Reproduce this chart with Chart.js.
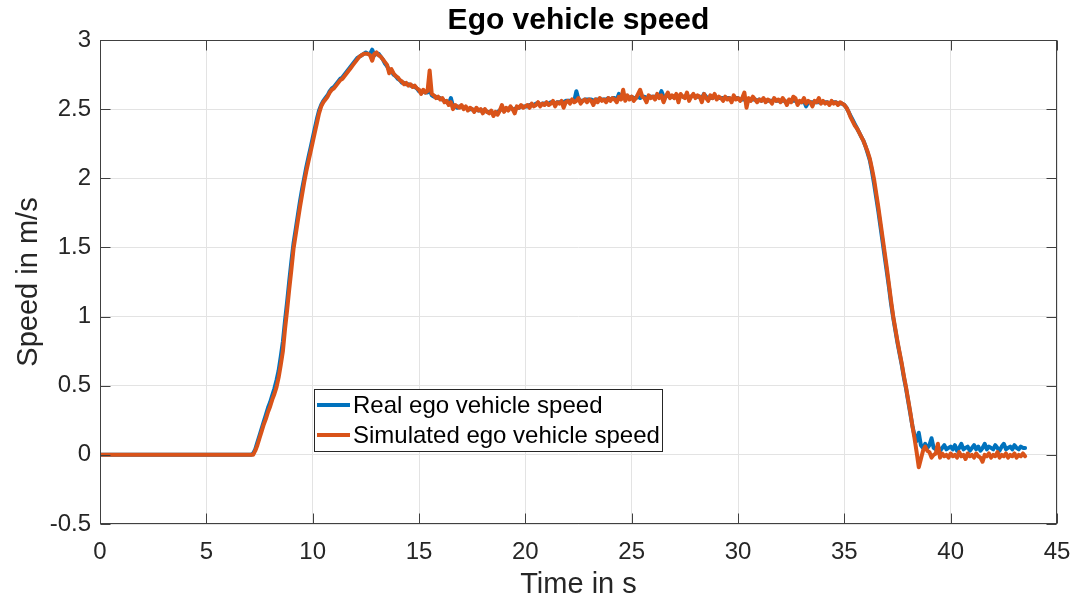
<!DOCTYPE html>
<html>
<head>
<meta charset="utf-8">
<script src="https://cdn.jsdelivr.net/npm/chart.js@4.4.1/dist/chart.umd.min.js"></script>
<style>
  html, body { margin: 0; padding: 0; background: #fff; }
  #wrap { width: 1074px; height: 602px; }
</style>
</head>
<body>
<div id="wrap"><canvas id="speedChart" width="1074" height="602"></canvas></div>
<script>
// both speeds sit at 0 m/s from t = 0 until the logged samples start
let flatStart = 0;
// logged samples, every 0.1 s from 7.0 s to 43.5 s
let sampleStart = 7.0;
let sampleStep = 0.1;

let realSpeed = [
  0.00, 0.00, 0.01, 0.04, 0.09, 0.14, 0.19, 0.24, 0.29, 0.34,
  0.38, 0.43, 0.48, 0.54, 0.61, 0.71, 0.82, 0.97, 1.11, 1.26,
  1.40, 1.53, 1.63, 1.73, 1.83, 1.92, 2.00, 2.08, 2.15, 2.22,
  2.29, 2.36, 2.43, 2.49, 2.53, 2.56, 2.58, 2.60, 2.63, 2.65,
  2.66, 2.68, 2.70, 2.72, 2.73, 2.75, 2.77, 2.79, 2.81, 2.83,
  2.85, 2.87, 2.88, 2.89, 2.90, 2.91, 2.90, 2.90, 2.93, 2.89,
  2.90, 2.90, 2.88, 2.86, 2.83, 2.81, 2.78, 2.78, 2.75, 2.74,
  2.72, 2.71, 2.69, 2.69, 2.68, 2.68, 2.67, 2.67, 2.66, 2.65,
  2.63, 2.62, 2.63, 2.62, 2.62, 2.64, 2.60, 2.59, 2.59, 2.58,
  2.58, 2.57, 2.56, 2.55, 2.54, 2.58, 2.52, 2.52, 2.51, 2.52,
  2.52, 2.51, 2.51, 2.50, 2.50, 2.50, 2.49, 2.50, 2.49, 2.49,
  2.49, 2.49, 2.48, 2.48, 2.48, 2.47, 2.47, 2.48, 2.49, 2.51,
  2.49, 2.50, 2.50, 2.51, 2.50, 2.50, 2.51, 2.51, 2.52, 2.52,
  2.52, 2.52, 2.53, 2.53, 2.53, 2.54, 2.54, 2.53, 2.54, 2.54,
  2.54, 2.54, 2.55, 2.55, 2.54, 2.55, 2.55, 2.55, 2.55, 2.56,
  2.56, 2.56, 2.56, 2.56, 2.63, 2.57, 2.56, 2.56, 2.57, 2.57,
  2.57, 2.57, 2.56, 2.57, 2.57, 2.57, 2.57, 2.57, 2.57, 2.58,
  2.57, 2.58, 2.58, 2.57, 2.61, 2.58, 2.58, 2.58, 2.59, 2.58,
  2.59, 2.58, 2.58, 2.59, 2.58, 2.59, 2.59, 2.58, 2.59, 2.59,
  2.59, 2.59, 2.60, 2.59, 2.63, 2.59, 2.59, 2.60, 2.59, 2.59,
  2.59, 2.59, 2.59, 2.60, 2.59, 2.59, 2.59, 2.59, 2.59, 2.60,
  2.59, 2.59, 2.59, 2.58, 2.61, 2.59, 2.58, 2.58, 2.58, 2.59,
  2.58, 2.58, 2.58, 2.58, 2.58, 2.58, 2.58, 2.57, 2.58, 2.58,
  2.58, 2.57, 2.57, 2.57, 2.57, 2.57, 2.57, 2.57, 2.57, 2.56,
  2.57, 2.56, 2.57, 2.56, 2.56, 2.56, 2.56, 2.57, 2.56, 2.56,
  2.56, 2.56, 2.56, 2.55, 2.56, 2.56, 2.56, 2.56, 2.55, 2.55,
  2.55, 2.56, 2.52, 2.55, 2.55, 2.55, 2.55, 2.55, 2.55, 2.55,
  2.55, 2.55, 2.55, 2.54, 2.55, 2.55, 2.55, 2.54, 2.54, 2.54,
  2.53, 2.51, 2.48, 2.45, 2.42, 2.39, 2.36, 2.33, 2.30, 2.27,
  2.23, 2.18, 2.13, 2.05, 1.96, 1.86, 1.76, 1.65, 1.54, 1.43,
  1.32, 1.21, 1.09, 0.99, 0.90, 0.81, 0.73, 0.65, 0.56, 0.48,
  0.39, 0.30, 0.21, 0.14, 0.10, 0.16, 0.07, 0.05, 0.08, 0.05,
  0.07, 0.12, 0.05, 0.04, 0.06, 0.03, 0.05, 0.07, 0.04, 0.05,
  0.06, 0.04, 0.07, 0.03, 0.05, 0.08, 0.04, 0.05, 0.06, 0.03,
  0.05, 0.07, 0.04, 0.06, 0.03, 0.05, 0.08, 0.04, 0.06, 0.05,
  0.04, 0.07, 0.05, 0.03, 0.06, 0.08, 0.04, 0.05, 0.06, 0.04,
  0.07, 0.05, 0.04, 0.06, 0.05, 0.05
];

let simSpeed = [
  0.00, 0.00, 0.00, 0.03, 0.07, 0.12, 0.17, 0.22, 0.26, 0.31,
  0.35, 0.40, 0.44, 0.49, 0.56, 0.65, 0.75, 0.91, 1.05, 1.20,
  1.34, 1.49, 1.59, 1.69, 1.79, 1.88, 1.97, 2.05, 2.12, 2.19,
  2.26, 2.33, 2.40, 2.47, 2.52, 2.55, 2.57, 2.59, 2.62, 2.64,
  2.65, 2.67, 2.69, 2.71, 2.72, 2.74, 2.76, 2.78, 2.80, 2.82,
  2.84, 2.86, 2.88, 2.89, 2.90, 2.90, 2.90, 2.89, 2.85, 2.90,
  2.91, 2.89, 2.88, 2.86, 2.84, 2.82, 2.76, 2.79, 2.76, 2.74,
  2.73, 2.71, 2.70, 2.68, 2.69, 2.67, 2.68, 2.66, 2.67, 2.65,
  2.64, 2.61, 2.64, 2.62, 2.63, 2.78, 2.61, 2.60, 2.58, 2.59,
  2.57, 2.58, 2.55, 2.56, 2.53, 2.55, 2.50, 2.53, 2.52, 2.51,
  2.53, 2.50, 2.52, 2.49, 2.51, 2.50, 2.48, 2.51, 2.49, 2.50,
  2.47, 2.50, 2.48, 2.47, 2.49, 2.45, 2.48, 2.46, 2.49, 2.53,
  2.48, 2.51, 2.49, 2.52, 2.50, 2.47, 2.52, 2.51, 2.53, 2.51,
  2.52, 2.53, 2.51, 2.54, 2.52, 2.53, 2.55, 2.52, 2.54, 2.53,
  2.55, 2.53, 2.54, 2.56, 2.52, 2.55, 2.54, 2.56, 2.51, 2.55,
  2.56, 2.54, 2.57, 2.55, 2.56, 2.58, 2.54, 2.56, 2.57, 2.55,
  2.57, 2.56, 2.53, 2.57, 2.55, 2.58, 2.56, 2.57, 2.55, 2.58,
  2.56, 2.58, 2.57, 2.55, 2.59, 2.57, 2.64, 2.56, 2.60, 2.57,
  2.59, 2.56, 2.58, 2.61, 2.64, 2.59, 2.58, 2.55, 2.60, 2.58,
  2.59, 2.57, 2.61, 2.58, 2.60, 2.55, 2.59, 2.62, 2.58, 2.60,
  2.58, 2.61, 2.55, 2.61, 2.59, 2.58, 2.62, 2.56, 2.59, 2.61,
  2.58, 2.60, 2.59, 2.55, 2.61, 2.58, 2.56, 2.60, 2.58, 2.61,
  2.57, 2.59, 2.58, 2.56, 2.59, 2.57, 2.58, 2.55, 2.60, 2.57,
  2.58, 2.56, 2.58, 2.62, 2.51, 2.58, 2.56, 2.59, 2.57, 2.55,
  2.57, 2.56, 2.58, 2.55, 2.57, 2.56, 2.54, 2.58, 2.56, 2.57,
  2.55, 2.58, 2.56, 2.53, 2.57, 2.55, 2.59, 2.58, 2.53, 2.56,
  2.55, 2.58, 2.54, 2.56, 2.55, 2.52, 2.56, 2.55, 2.58, 2.54,
  2.56, 2.54, 2.55, 2.53, 2.56, 2.54, 2.55, 2.53, 2.55, 2.54,
  2.53, 2.51, 2.48, 2.44, 2.41, 2.38, 2.36, 2.33, 2.30, 2.27,
  2.23, 2.19, 2.14, 2.07, 1.99, 1.89, 1.79, 1.68, 1.57, 1.46,
  1.35, 1.23, 1.11, 1.00, 0.91, 0.82, 0.74, 0.66, 0.57, 0.49,
  0.40, 0.31, 0.21, 0.12, 0.02, -0.09, -0.03, 0.03, 0.06, 0.03,
  0.02, -0.02, 0.00, 0.01, 0.08, -0.02, 0.01, -0.01, 0.00, -0.02,
  0.01, -0.01, 0.00, -0.02, 0.02, -0.01, 0.00, -0.03, 0.01, -0.01,
  0.00, -0.02, 0.01, -0.01, -0.02, -0.05, 0.00, -0.01, 0.01, -0.02,
  0.00, -0.01, 0.02, -0.02, 0.00, -0.01, 0.01, -0.02, 0.00, -0.01,
  0.01, -0.02, 0.00, -0.01, 0.01, -0.01
];

let chartTitle = 'Ego vehicle speed';
let seriesNames = ['Real ego vehicle speed', 'Simulated ego vehicle speed'];
let seriesColors = ['#0072BD', '#D95319'];
let xTickValues = [0, 5, 10, 15, 20, 25, 30, 35, 40, 45];
let yTickValues = [-0.5, 0, 0.5, 1, 1.5, 2, 2.5, 3];

let textColor = '#262626';
let fontFamily = '"Liberation Sans", Arial, Helvetica, sans-serif';

function toPoints(values) {
    let pts = [{ x: flatStart, y: 0 }];
    values.forEach((v, i) => {
        pts.push({ x: +(sampleStart + i * sampleStep).toFixed(2), y: v });
    });
    return pts;
}

// title over the plot area, inward tick marks, closed box and legend
const axesBox = {
    id: 'axesBox',
    afterDraw(chart) {
        let ctx = chart.ctx;
        let area = chart.chartArea;
        let xs = chart.scales.x;
        let ys = chart.scales.y;
        let L = Math.round(area.left) + 0.5;
        let R = Math.round(area.right) - 0.5;
        let T = Math.round(area.top) + 0.5;
        let B = Math.round(area.bottom) - 0.5;
        let tickLen = 10;

        ctx.save();
        ctx.fillStyle = '#000';
        ctx.font = 'bold 30px ' + fontFamily;
        ctx.textAlign = 'center';
        ctx.textBaseline = 'middle';
        ctx.fillText(chartTitle, (area.left + area.right) / 2, 21);

        ctx.strokeStyle = '#404040';
        ctx.lineWidth = 1;
        ctx.beginPath();
        xTickValues.forEach(v => {
            let px = Math.round(xs.getPixelForValue(v)) + 0.5;
            ctx.moveTo(px, B); ctx.lineTo(px, B - tickLen);
            ctx.moveTo(px, T); ctx.lineTo(px, T + tickLen);
        });
        yTickValues.forEach(v => {
            let py = Math.round(ys.getPixelForValue(v)) + 0.5;
            ctx.moveTo(L, py); ctx.lineTo(L + tickLen, py);
            ctx.moveTo(R, py); ctx.lineTo(R - tickLen, py);
        });
        ctx.stroke();
        ctx.strokeRect(L, T, R - L, B - T);

        // legend
        let lx = 314.5, ly = 389.5, lw = 348, lh = 62;
        ctx.fillStyle = '#fff';
        ctx.fillRect(lx, ly, lw, lh);
        ctx.strokeStyle = '#262626';
        ctx.strokeRect(lx, ly, lw, lh);
        ctx.font = '24px ' + fontFamily;
        ctx.textBaseline = 'middle';
        ctx.textAlign = 'left';
        seriesNames.forEach((name, i) => {
            let rowY = 405 + i * 30;
            ctx.strokeStyle = seriesColors[i];
            ctx.lineWidth = 4;
            ctx.beginPath();
            ctx.moveTo(317, rowY);
            ctx.lineTo(350, rowY);
            ctx.stroke();
            ctx.fillStyle = '#000';
            ctx.fillText(name, 353, rowY + 1);
        });
        ctx.restore();
    }
};

let ctx = document.getElementById('speedChart').getContext('2d');

let chart = new Chart(ctx, {
    type: 'line',
    data: {
        datasets: [{
            label: seriesNames[0],
            data: toPoints(realSpeed),
            borderColor: seriesColors[0],
            backgroundColor: seriesColors[0],
            borderWidth: 4,
            order: 2
        }, {
            label: seriesNames[1],
            data: toPoints(simSpeed),
            borderColor: seriesColors[1],
            backgroundColor: seriesColors[1],
            borderWidth: 4,
            order: 1
        }]
    },
    options: {
        responsive: false,
        devicePixelRatio: 1,
        animation: false,
        parsing: false,
        elements: {
            point: { radius: 0 },
            line: { tension: 0, borderJoinStyle: 'round', borderCapStyle: 'round' }
        },
        layout: {
            padding: { left: 0, right: 17, top: 40, bottom: 0 }
        },
        plugins: {
            legend: { display: false },
            tooltip: { enabled: false },
            title: { display: false }
        },
        scales: {
            x: {
                type: 'linear',
                min: 0,
                max: 45,
                afterBuildTicks: (scale) => { scale.ticks = xTickValues.map(v => ({ value: v })); },
                afterFit: (scale) => {
                    scale.height = 78;
                    scale.paddingLeft = 0;
                    scale.paddingRight = 0;
                },
                grid: { color: '#e3e3e3', lineWidth: 1, drawTicks: false },
                border: { display: false },
                ticks: {
                    color: textColor,
                    padding: 14,
                    maxRotation: 0,
                    font: { family: fontFamily, size: 24 },
                    callback: (v) => String(v)
                },
                title: {
                    display: true,
                    text: 'Time in s',
                    color: textColor,
                    font: { family: fontFamily, size: 29, lineHeight: 1 },
                    padding: { top: 0, bottom: 3 }
                }
            },
            y: {
                type: 'linear',
                min: -0.5,
                max: 3,
                afterBuildTicks: (scale) => { scale.ticks = yTickValues.map(v => ({ value: v })); },
                afterFit: (scale) => {
                    scale.width = 100;
                    scale.paddingTop = 0;
                    scale.paddingBottom = 0;
                },
                grid: { color: '#e3e3e3', lineWidth: 1, drawTicks: false },
                border: { display: false },
                ticks: {
                    color: textColor,
                    padding: 9,
                    font: { family: fontFamily, size: 24 },
                    callback: (v) => String(v)
                },
                title: {
                    display: true,
                    text: 'Speed in m/s',
                    color: textColor,
                    font: { family: fontFamily, size: 29, lineHeight: 1 },
                    padding: { top: 14, bottom: 0 }
                }
            }
        }
    },
    plugins: [axesBox]
});
</script>
</body>
</html>
